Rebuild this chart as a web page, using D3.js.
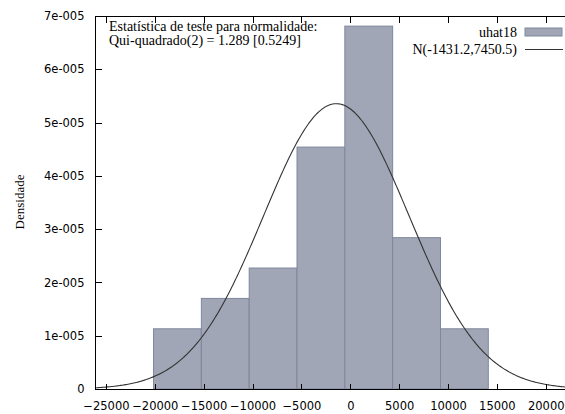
<!DOCTYPE html>
<html><head><meta charset="utf-8">
<script src="https://cdn.jsdelivr.net/npm/d3@7"></script>
<style>
body{margin:0;background:#fff;}
svg{display:block;}
</style></head>
<body>
<script>
// Data
const binStart = -20130;
const binWidth = 4893;
const densities = [1.13e-5, 1.70e-5, 2.27e-5, 4.54e-5, 6.81e-5, 2.84e-5, 1.13e-5];
const normMean = -1431.2;
const normSd = 7450.5;
const xTicks = [-25000, -20000, -15000, -10000, -5000, 0, 5000, 10000, 15000, 20000];
const yTicks = [0, 1e-5, 2e-5, 3e-5, 4e-5, 5e-5, 6e-5, 7e-5];
const yTickLabels = ["0", "1e-005", "2e-005", "3e-005", "4e-005", "5e-005", "6e-005", "7e-005"];
const seriesName = "uhat18";
const curveName = "N(-1431.2,7450.5)";
const testLines = ["Estatística de teste para normalidade:", "Qui-quadrado(2) = 1.289 [0.5249]"];
const yLabel = "Densidade";

const W = 565, H = 414;
const L = 95, T = 16, R = 566, B = 389;
const svg = d3.select("body").append("svg").attr("width", W).attr("height", H);

const x = d3.scaleLinear().domain([-26120, 22070]).range([L, R]);
const y = d3.scaleLinear().domain([0, 7e-5]).range([B, T]);

const bins = densities.map((d, i) => ({x0: binStart + i * binWidth, x1: binStart + (i + 1) * binWidth, d}));

svg.append("g").selectAll("rect").data(bins).join("rect")
  .attr("x", b => x(b.x0)).attr("y", b => y(b.d))
  .attr("width", b => x(b.x1) - x(b.x0)).attr("height", b => y(0) - y(b.d))
  .attr("fill", "#a0a6b5").attr("stroke", "#7e879d").attr("stroke-width", 1);

// Normal density curve with the stated parameters
const xs = d3.range(0, 401).map(i => x.domain()[0] + (x.domain()[1] - x.domain()[0]) * i / 400);
const pdf = v => Math.exp(-0.5 * ((v - normMean) / normSd) ** 2) / (normSd * Math.sqrt(2 * Math.PI));
svg.append("path").datum(xs)
  .attr("d", d3.line().x(v => x(v)).y(v => y(pdf(v))))
  .attr("fill", "none").attr("stroke", "#333").attr("stroke-width", 1.1);

// Frame
const frame = svg.append("g").attr("stroke", "#000").attr("stroke-width", 1).attr("shape-rendering", "crispEdges");
frame.append("line").attr("x1", L + 0.5).attr("x2", L + 0.5).attr("y1", T).attr("y2", B);
frame.append("line").attr("x1", L).attr("x2", W).attr("y1", T + 0.5).attr("y2", T + 0.5);
frame.append("line").attr("x1", L).attr("x2", W).attr("y1", B + 0.5).attr("y2", B + 0.5);

// Axes
const font = "DejaVu Sans";
const xAxis = svg.append("g").attr("transform", `translate(0,${B + 0.5})`)
  .call(d3.axisBottom(x).tickValues(xTicks).tickSize(-6).tickPadding(12).tickFormat(d3.format("d")));
xAxis.select(".domain").remove();
xAxis.selectAll("text").attr("font-family", font).attr("font-size", 11.5).attr("fill", "#000");

const xTop = svg.append("g").attr("transform", `translate(0,${T + 0.5})`)
  .call(d3.axisTop(x).tickValues(xTicks).tickSize(-6).tickFormat(""));
xTop.select(".domain").remove();

const yAxis = svg.append("g").attr("transform", `translate(${L + 0.5},0)`)
  .call(d3.axisLeft(y).tickValues(yTicks).tickSize(-6).tickPadding(11).tickFormat((d, i) => yTickLabels[i]));
yAxis.select(".domain").remove();
yAxis.selectAll("text").attr("font-family", font).attr("font-size", 11.5).attr("fill", "#000");
svg.selectAll(".tick line").attr("stroke", "#000").attr("shape-rendering", "crispEdges");

// Y label
svg.append("text").attr("transform", "translate(24,202) rotate(-90)")
  .attr("text-anchor", "middle").attr("font-family", "Liberation Serif").attr("font-size", 13)
  .text(yLabel);

// Test annotation
svg.append("g").selectAll("text").data(testLines).join("text")
  .attr("x", 109).attr("y", (d, i) => 31 + i * 14)
  .attr("font-family", "Liberation Serif").attr("font-size", 14).attr("fill", "#000")
  .text(d => d);

// Legend
const lg = svg.append("g").attr("font-family", "Liberation Serif").attr("font-size", 14);
lg.append("text").attr("x", 517).attr("y", 37).attr("text-anchor", "end").text(seriesName);
lg.append("rect").attr("x", 525).attr("y", 28).attr("width", 37).attr("height", 8)
  .attr("fill", "#a0a6b5").attr("stroke", "#7e879d");
lg.append("text").attr("x", 517).attr("y", 54).attr("text-anchor", "end").text(curveName);
lg.append("line").attr("x1", 525).attr("x2", 563).attr("y1", 49.5).attr("y2", 49.5)
  .attr("stroke", "#333").attr("stroke-width", 1.1);
</script>
</body></html>
